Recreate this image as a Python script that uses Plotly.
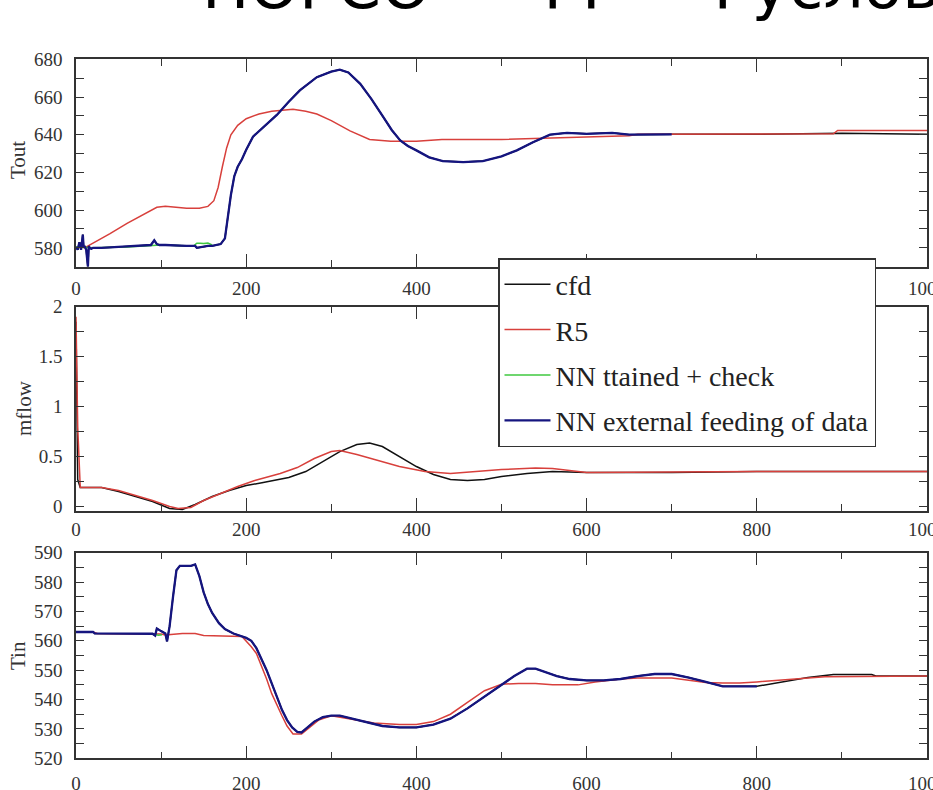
import plotly.graph_objects as go

# ---------------- data ----------------
# Tout : outlet temperature
tout_cfd_t = [0, 2, 4, 6, 8, 9, 10, 12, 14, 15, 16, 18, 20, 30, 50, 70, 88, 92, 95, 98, 105, 130, 140,
              142, 148, 155, 160, 170, 175, 178, 182, 186, 190, 195, 200, 208, 222, 236, 250, 263,
              283, 300, 310, 320, 334, 347, 361, 371, 381, 390, 400, 415, 431, 455, 478, 500, 518,
              537, 557, 577, 600, 630, 650, 700, 800, 900, 1000]
tout_cfd_v = [580.5, 579, 583, 579, 587, 580, 581, 579, 570, 581, 580, 579.5, 580, 580, 580.5, 581,
              581.5, 584, 582, 581.5, 581.5, 581, 581, 580, 580.5, 581, 581, 582, 585, 595, 608, 618,
              623, 627, 632, 639, 645, 650.5, 657.5, 663.5, 670.5, 673.5, 674.5, 673, 667, 659,
              649.4, 642.5, 637, 634, 631.7, 628, 626, 625.5, 626, 628.5, 631.7, 636, 640, 641,
              640.5, 641, 640, 640.2, 640.2, 640.8, 640.3]

tout_r5_t = [10, 20, 40, 60, 80, 95, 105, 115, 130, 145, 155, 162, 167, 172, 177, 182, 190, 200, 215,
             230, 255, 270, 283, 300, 322, 345, 370, 400, 430, 500, 600, 650, 660, 890, 895, 1000]
tout_r5_v = [580, 582.5, 587.5, 593, 598, 601.5, 602, 601.5, 601, 601, 602, 605, 612, 623, 633, 640,
             645, 648.5, 651, 652.5, 653.5, 652.5, 651, 647.5, 642, 637.5, 636.5, 636.5, 637.5,
             637.5, 638.8, 639.5, 640.2, 640.5, 642.3, 642.3]

tout_nnt_t = [0, 20, 60, 100, 138, 142, 146, 150, 155, 160]
tout_nnt_v = [580.5, 580, 580.5, 581.5, 581, 582.5, 582.5, 582.3, 582.5, 581.5]

tout_nne_t = tout_cfd_t[:-3]
tout_nne_v = tout_cfd_v[:-3]

# mflow : mass flow
mflow_cfd_t = [0, 2, 5, 30, 50, 70, 90, 110, 125, 140, 160, 180, 200, 220, 250, 270, 290, 310, 330,
               345, 360, 380, 400, 420, 440, 460, 480, 500, 530, 560, 600, 700, 800, 1000]
mflow_cfd_v = [1.85, 0.27, 0.19, 0.19, 0.15, 0.1, 0.05, -0.02, -0.03, 0.02, 0.1, 0.16, 0.21, 0.24,
               0.29, 0.35, 0.45, 0.55, 0.62, 0.635, 0.6, 0.5, 0.4, 0.32, 0.27, 0.26, 0.27, 0.3, 0.33,
               0.35, 0.34, 0.34, 0.35, 0.35]

mflow_r5_t = [0, 2, 5, 30, 50, 70, 90, 110, 120, 135, 150, 170, 190, 210, 240, 260, 280, 300, 310,
              330, 350, 380, 410, 440, 470, 500, 540, 560, 580, 600, 800, 1000]
mflow_r5_v = [1.9, 0.8, 0.19, 0.19, 0.16, 0.11, 0.06, 0.0, -0.02, -0.01, 0.06, 0.13, 0.2, 0.26, 0.33,
              0.39, 0.48, 0.55, 0.56, 0.52, 0.47, 0.4, 0.35, 0.33, 0.35, 0.37, 0.385, 0.38, 0.36,
              0.34, 0.35, 0.35]

# Tin : inlet temperature
tin_cfd_t = [0, 20, 22, 60, 90, 93, 95, 100, 105, 107, 110, 114, 118, 122, 135, 140, 145, 150, 155,
             160, 168, 175, 185, 200, 206, 212, 218, 224, 230, 236, 242, 248, 254, 260, 265, 270,
             280, 290, 300, 310, 320, 340, 360, 380, 400, 420, 440, 460, 480, 500, 515, 530, 540,
             550, 565, 580, 600, 620, 640, 660, 680, 700, 720, 740, 760, 800, 820, 840, 860, 890,
             935, 940, 1000]
tin_cfd_v = [563, 563, 562.5, 562.5, 562.4, 561.8, 564.2, 563.3, 562.5, 559.8, 565, 575, 584, 585.5,
             585.5, 586, 582, 576.5, 572.5, 569.5, 566, 564, 562.5, 561, 560, 557.5, 554, 550,
             545.5, 541, 536.5, 533, 530.5, 529, 528.8, 530, 532.5, 534, 534.5, 534.5, 533.8,
             532.5, 531, 530.5, 530.5, 531.5, 533.5, 537, 541, 545, 548, 550.5, 550.5, 549.5, 548,
             547, 546.5, 546.5, 547, 548, 548.7, 548.7, 547.5, 546, 544.5, 544.5, 545.5, 546.5,
             547.5, 548.5, 548.5, 548, 548]

tin_r5_t = [0, 20, 25, 100, 105, 125, 140, 150, 195, 200, 206, 212, 218, 224, 230, 236, 242, 248,
            255, 265, 275, 285, 300, 310, 330, 350, 380, 400, 420, 440, 460, 480, 500, 520, 540,
            560, 590, 610, 640, 660, 700, 720, 740, 760, 780, 800, 840, 880, 1000]
tin_r5_v = [563, 563, 562.5, 562.3, 562, 562.5, 562.5, 561.8, 561.5, 560, 558, 555.7, 551.5, 547,
            542, 538, 534.5, 531, 528.3, 528.3, 530.5, 533, 534.5, 534, 533, 532, 531.5, 531.5,
            532.5, 535, 539, 543, 545.2, 545.5, 545.5, 545, 545, 546, 547, 547.3, 547.3, 546.5,
            545.8, 545.6, 545.6, 546, 546.8, 547.8, 548]

tin_nnt_t = [88, 93, 97, 101]
tin_nnt_v = [562.4, 562.1, 561.9, 562.1]

tin_nne_t = tin_cfd_t[:-7]
tin_nne_v = tin_cfd_v[:-7]

series_names = ["cfd", "R5", "NN ttained + check", "NN external feeding of data"]
series_colors = ["#111111", "#d8403c", "#3fc83f", "#15157f"]

x_ticks = [0, 200, 400, 600, 800, 1000]

# ---------------- figure ----------------
W, H = 933, 790


def px_x(p):
    return p / W


def px_y(p):
    return (H - p) / H


fig = go.Figure()

panels = [
    ("", [tout_cfd_t, tout_r5_t, tout_nnt_t, tout_nne_t], [tout_cfd_v, tout_r5_v, tout_nnt_v, tout_nne_v]),
    ("2", [mflow_cfd_t, mflow_r5_t, None, None], [mflow_cfd_v, mflow_r5_v, None, None]),
    ("3", [tin_cfd_t, tin_r5_t, tin_nnt_t, tin_nne_t], [tin_cfd_v, tin_r5_v, tin_nnt_v, tin_nne_v]),
]

shown = set()
for suffix, xs, ys in panels:
    for i, (xv, yv) in enumerate(zip(xs, ys)):
        if xv is None:
            continue
        fig.add_trace(go.Scatter(
            x=xv, y=yv, mode="lines",
            name=series_names[i], legendgroup=series_names[i],
            showlegend=series_names[i] not in shown,
            line=dict(color=series_colors[i], width=2.3 if i == 3 else 1.5),
            xaxis="x" + suffix, yaxis="y" + suffix,
        ))
        shown.add(series_names[i])

tick_font = dict(family="Liberation Serif", size=19, color="#333333")
x_dom = [px_x(76), px_x(927)]


def xaxis_cfg(anchor, standoff):
    return dict(
        domain=x_dom, range=[0, 1000], anchor=anchor,
        tickvals=x_ticks, ticktext=[str(v) for v in x_ticks],
        ticks="inside", ticklen=13, tickcolor="#333", tickwidth=1.3,
        minor=dict(dtick=100, tick0=0, ticks="inside", ticklen=7, tickcolor="#333", tickwidth=1.3),
        showline=True, linecolor="#333", linewidth=1.5, mirror="ticks",
        showgrid=False, zeroline=False, tickfont=tick_font,
        ticklabelstandoff=standoff, ticklabeloverflow="allow",
    )


def yaxis_cfg(anchor, top, bottom, rng, dtick, minor):
    return dict(
        domain=[px_y(bottom), px_y(top)], range=rng, anchor=anchor,
        dtick=dtick, tick0=0,
        ticks="inside", ticklen=8, tickcolor="#333", tickwidth=1.3,
        minor=dict(dtick=minor, ticks="inside", ticklen=8, tickcolor="#333", tickwidth=1.3),
        showline=True, linecolor="#333", linewidth=1.5, mirror="ticks",
        showgrid=False, zeroline=False, tickfont=tick_font, ticklabelstandoff=8,
    )


fig.update_layout(
    width=W, height=H,
    margin=dict(l=0, r=0, t=0, b=0, autoexpand=False),
    paper_bgcolor="white", plot_bgcolor="white",
    showlegend=True,
    xaxis=xaxis_cfg("y", 4),
    xaxis2=xaxis_cfg("y2", 0),
    xaxis3=xaxis_cfg("y3", 7),
    yaxis=yaxis_cfg("x", 59.3, 266.7, [570, 680], 20, 10),
    yaxis2=yaxis_cfg("x2", 306.7, 511, [-0.045, 2], 0.5, 0.25),
    yaxis3=yaxis_cfg("x3", 552.7, 758.3, [520, 590], 10, 5),
    legend=dict(
        x=px_x(498), y=px_y(258), xanchor="left", yanchor="top",
        bgcolor="white", bordercolor="#333", borderwidth=1.5,
        font=dict(family="Liberation Serif", size=28, color="#222"),
        traceorder="grouped", tracegroupgap=6, itemwidth=46,
    ),
)

axis_title_font = dict(family="Liberation Serif", size=21, color="#333")
for label, ypix, xpix in [("Tout", 160, 18), ("mflow", 408, 24), ("Tin", 656, 18)]:
    fig.add_annotation(
        text=label, xref="paper", yref="paper", x=px_x(xpix), y=px_y(ypix),
        textangle=-90, showarrow=False, font=axis_title_font,
        xanchor="center", yanchor="middle",
    )

# heading across the top of the page
fig.add_annotation(
    text="НОРСО — ТТ — Руслов", xref="paper", yref="paper",
    x=px_x(200), y=px_y(25), xanchor="left", yanchor="bottom",
    showarrow=False, font=dict(family="DejaVu Sans", size=63, color="black"),
)

fig.write_html("out.html", config=dict(displayModeBar=False))
